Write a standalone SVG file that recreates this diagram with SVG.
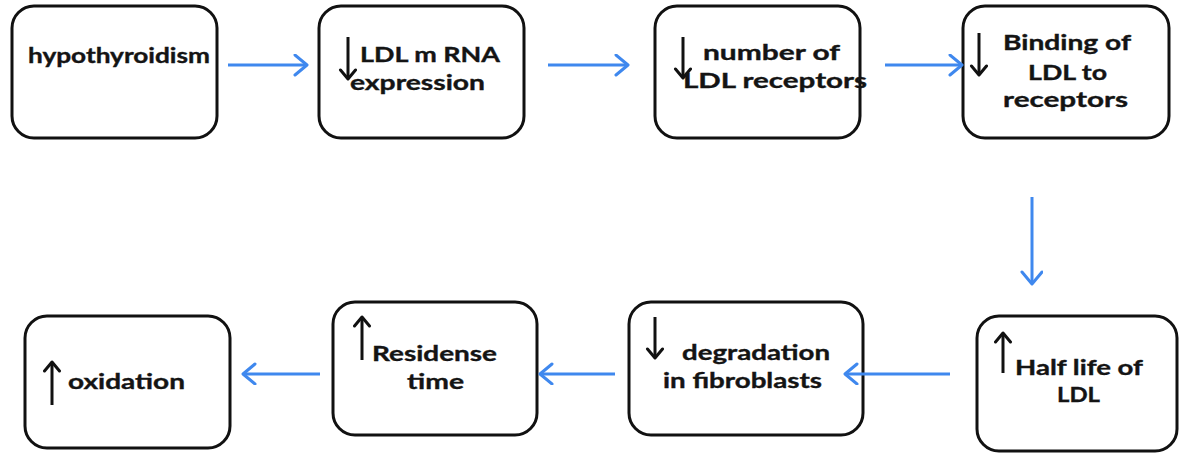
<svg xmlns="http://www.w3.org/2000/svg" width="1180" height="456" viewBox="0 0 1180 456">
  <style>
    .box { fill: #ffffff; stroke: #111111; stroke-width: 3; }
    .lbl { font-family: Lato, "Open Sans", "Liberation Sans", sans-serif; font-weight: bold; font-size: 20px; fill: #141414; stroke: #141414; stroke-width: 0.35; }
    .mark { stroke: #111111; stroke-width: 3; fill: none; }
    .link { stroke: #3f88ee; stroke-width: 3; fill: none; }
  </style>
  <defs>
    <marker id="head-blue" markerUnits="userSpaceOnUse" markerWidth="20" markerHeight="24" refX="14" refY="11" orient="auto">
      <path d="M2,1 L14,11 L2,21" fill="none" stroke="#3f88ee" stroke-width="3" stroke-linecap="round" stroke-linejoin="round"/>
    </marker>
    <marker id="head-black" markerUnits="userSpaceOnUse" markerWidth="18" markerHeight="20" refX="11" refY="9" orient="auto">
      <path d="M2,1.5 L11,9 L2,16.5" fill="none" stroke="#111111" stroke-width="3" stroke-linecap="round" stroke-linejoin="round"/>
    </marker>
  </defs>

  <rect width="1180" height="456" fill="#ffffff"/>

  <!-- top row -->
  <g id="hypothyroidism">
    <rect class="box" x="12" y="6" width="205" height="132" rx="22"/>
    <text class="lbl" x="28" y="63" textLength="182" lengthAdjust="spacingAndGlyphs">hypothyroidism</text>
  </g>

  <g id="ldl-mrna">
    <rect class="box" x="319" y="6" width="205" height="132" rx="22"/>
    <line class="mark" x1="348" y1="37" x2="348" y2="79" marker-end="url(#head-black)"/>
    <text class="lbl" x="360" y="62" textLength="140" lengthAdjust="spacingAndGlyphs">LDL m RNA</text>
    <text class="lbl" x="350" y="90" textLength="135" lengthAdjust="spacingAndGlyphs">expression</text>
  </g>

  <g id="ldl-receptors">
    <rect class="box" x="655" y="6" width="205" height="132" rx="22"/>
    <line class="mark" x1="683" y1="37" x2="683" y2="78" marker-end="url(#head-black)"/>
    <text class="lbl" x="703" y="60" textLength="137" lengthAdjust="spacingAndGlyphs">number of</text>
    <text class="lbl" x="683" y="88" textLength="184" lengthAdjust="spacingAndGlyphs">LDL receptors</text>
  </g>

  <g id="binding">
    <rect class="box" x="963" y="6" width="206" height="132" rx="22"/>
    <line class="mark" x1="979" y1="33" x2="979" y2="75" marker-end="url(#head-black)"/>
    <text class="lbl" x="1003" y="50" textLength="128" lengthAdjust="spacingAndGlyphs">Binding of</text>
    <text class="lbl" x="1028" y="80" textLength="79" lengthAdjust="spacingAndGlyphs">LDL to</text>
    <text class="lbl" x="1003" y="107" textLength="125" lengthAdjust="spacingAndGlyphs">receptors</text>
  </g>

  <!-- bottom row -->
  <g id="half-life">
    <rect class="box" x="977" y="316" width="200" height="135" rx="22"/>
    <line class="mark" x1="1003" y1="373" x2="1003" y2="333" marker-end="url(#head-black)"/>
    <text class="lbl" x="1015" y="375" textLength="128" lengthAdjust="spacingAndGlyphs">Half life of</text>
    <text class="lbl" x="1057" y="402" textLength="43" lengthAdjust="spacingAndGlyphs">LDL</text>
  </g>

  <g id="degradation">
    <rect class="box" x="629" y="302" width="234" height="133" rx="22"/>
    <line class="mark" x1="655" y1="317" x2="655" y2="358" marker-end="url(#head-black)"/>
    <text class="lbl" x="682" y="360" textLength="148" lengthAdjust="spacingAndGlyphs">degradation</text>
    <text class="lbl" x="663" y="388" textLength="159" lengthAdjust="spacingAndGlyphs">in fibroblasts</text>
  </g>

  <g id="residence">
    <rect class="box" x="333" y="302" width="204" height="133" rx="22"/>
    <line class="mark" x1="362" y1="360" x2="362" y2="317" marker-end="url(#head-black)"/>
    <text class="lbl" x="372" y="361" textLength="125" lengthAdjust="spacingAndGlyphs">Residense</text>
    <text class="lbl" x="407" y="389" textLength="57" lengthAdjust="spacingAndGlyphs">time</text>
  </g>

  <g id="oxidation">
    <rect class="box" x="25" y="316" width="205" height="132" rx="22"/>
    <line class="mark" x1="52" y1="405" x2="52" y2="362" marker-end="url(#head-black)"/>
    <text class="lbl" x="68" y="389" textLength="117" lengthAdjust="spacingAndGlyphs">oxidation</text>
  </g>

  <!-- connectors, drawn over the boxes so heads that reach a border stay visible -->
  <g id="connectors">
    <line class="link" x1="228" y1="65" x2="307" y2="65" marker-end="url(#head-blue)"/>
    <line class="link" x1="548" y1="65" x2="628" y2="65" marker-end="url(#head-blue)"/>
    <line class="link" x1="885" y1="65" x2="962" y2="65" marker-end="url(#head-blue)"/>
    <line class="link" x1="1032" y1="197" x2="1032" y2="284" marker-end="url(#head-blue)"/>
    <line class="link" x1="950" y1="374" x2="845" y2="374" marker-end="url(#head-blue)"/>
    <line class="link" x1="615" y1="374" x2="540" y2="374" marker-end="url(#head-blue)"/>
    <line class="link" x1="320" y1="374" x2="243" y2="374" marker-end="url(#head-blue)"/>
  </g>
</svg>
